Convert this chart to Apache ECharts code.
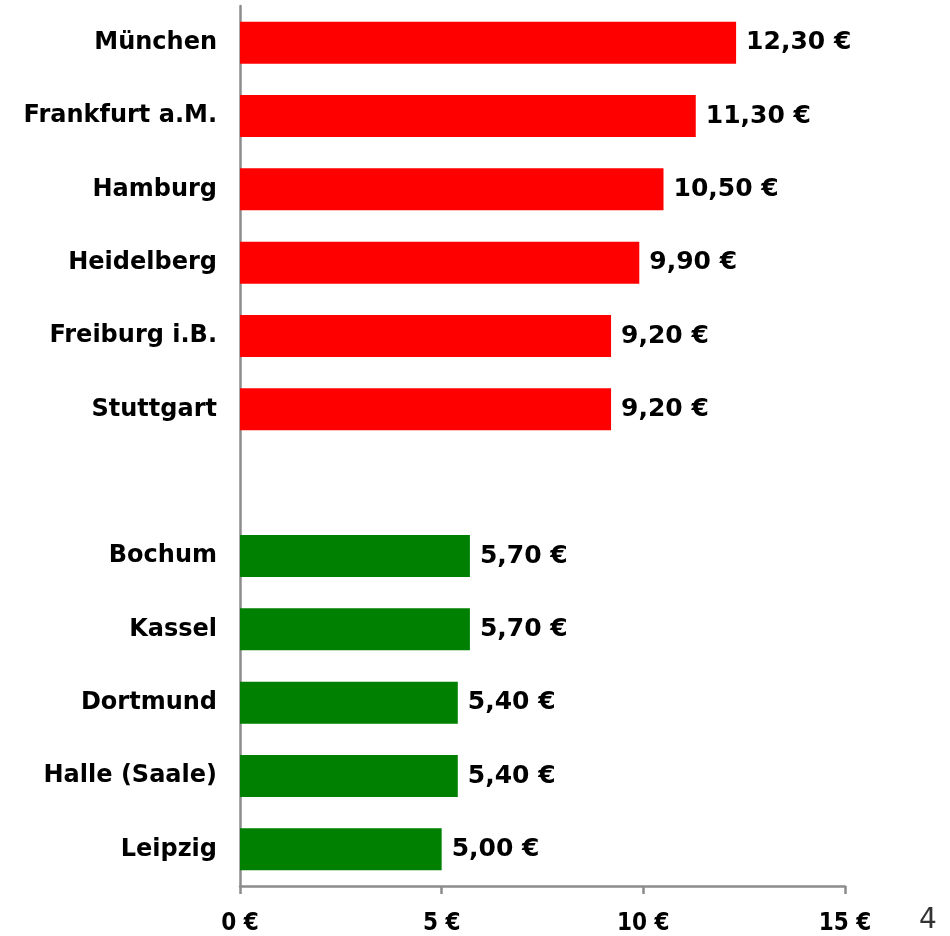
<!DOCTYPE html>
<html lang="de">
<head>
    <meta charset="utf-8">
    <title>Preise</title>
    <style>
        body { margin: 0; }
        #chart { width: 950px; height: 936px; }
    </style>
</head>
<body>
    <div id="chart"></div>
    <script src="https://cdn.jsdelivr.net/npm/echarts@6/dist/echarts.min.js"></script>
    <script>
        // teure Städte (rot)
        var highCities = ['München', 'Frankfurt a.M.', 'Hamburg', 'Heidelberg', 'Freiburg i.B.', 'Stuttgart'];
        var highPrices = [12.3, 11.3, 10.5, 9.9, 9.2, 9.2];
        // günstige Städte (grün)
        var lowCities = ['Bochum', 'Kassel', 'Dortmund', 'Halle (Saale)', 'Leipzig'];
        var lowPrices = [5.7, 5.7, 5.4, 5.4, 5.0];
        var xTicks = [0, 5, 10, 15];

        var categories = highCities.concat([''], lowCities);
        var gap = highCities.length;
        var redData = highPrices.concat(new Array(lowCities.length + 1).fill(null));
        var greenData = new Array(gap + 1).fill(null).concat(lowPrices);

        function euro(v) {
            return v.toFixed(2).replace('.', ',') + ' €';
        }

        var font = '"DejaVu Sans", Verdana, sans-serif';
        var labelStyle = {
            show: true,
            position: 'right',
            distance: 10,
            fontFamily: font,
            fontWeight: 'bold',
            fontSize: 25,
            color: '#000',
            formatter: function (p) { return euro(p.value); }
        };

        var chart = echarts.init(document.getElementById('chart'));
        chart.setOption({
            animation: false,
            grid: { left: 240, right: 105, top: 6, bottom: 50, containLabel: false },
            xAxis: {
                type: 'value',
                min: xTicks[0],
                max: xTicks[xTicks.length - 1],
                interval: 5,
                splitLine: { show: false },
                axisLine: { show: true, lineStyle: { color: '#8c8c8c', width: 2.5 } },
                axisTick: { show: true, length: 8, lineStyle: { color: '#8c8c8c', width: 2.5 } },
                axisLabel: {
                    margin: 26,
                    fontFamily: '"DejaVu Sans Condensed", "DejaVu Sans", sans-serif',
                    fontWeight: 'bold',
                    fontSize: 24,
                    color: '#000',
                    formatter: function (v) { return v + ' €'; }
                }
            },
            yAxis: {
                type: 'category',
                inverse: true,
                data: categories,
                axisLine: { show: true, lineStyle: { color: '#8c8c8c', width: 2.5 } },
                axisTick: { show: false },
                axisLabel: {
                    margin: 23,
                    fontFamily: font,
                    fontWeight: 'bold',
                    fontSize: 24,
                    color: '#000'
                }
            },
            series: [
                {
                    type: 'bar',
                    data: redData,
                    barWidth: 42,
                    barGap: '-100%',
                    itemStyle: { color: '#ff0000' },
                    label: labelStyle
                },
                {
                    type: 'bar',
                    data: greenData,
                    barWidth: 42,
                    barGap: '-100%',
                    itemStyle: { color: '#008000' },
                    label: labelStyle
                }
            ],
            graphic: [{
                type: 'text',
                left: 919,
                top: 907,
                style: { text: '4', fontFamily: '"DejaVu Sans", sans-serif', fontSize: 28, fill: '#333' }
            }]
        });
    </script>
</body>
</html>
